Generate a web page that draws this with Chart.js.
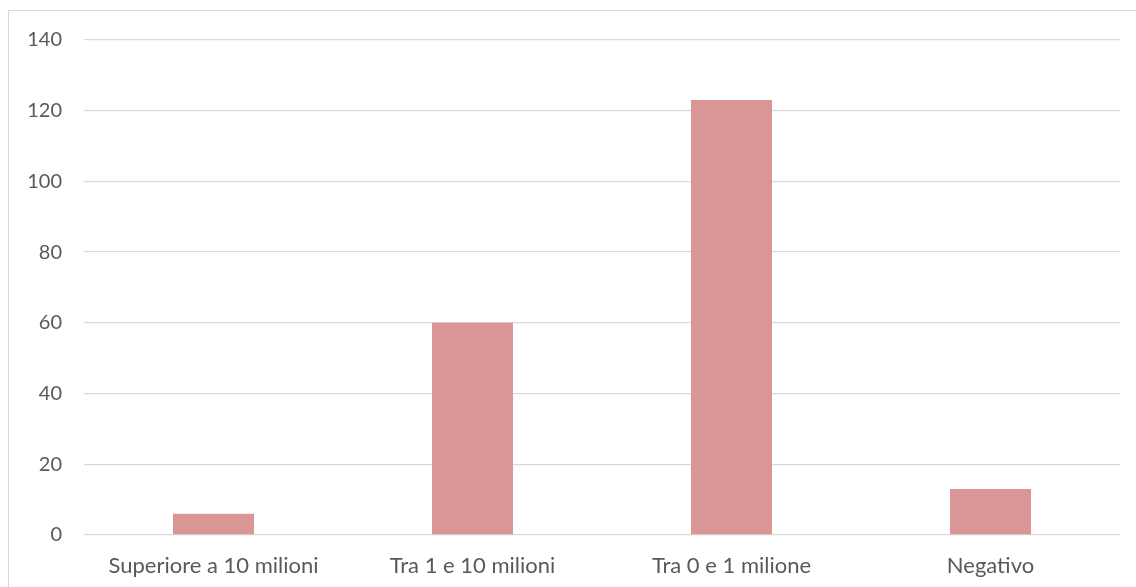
<!DOCTYPE html>
<html>
<head>
<meta charset="utf-8">
<script src="https://cdn.jsdelivr.net/npm/chart.js@4.4.0/dist/chart.umd.min.js"></script>
<style>
  html, body { margin: 0; padding: 0; background: #fff; }
  body { width: 1136px; height: 587px; position: relative; overflow: hidden; }
  .frame { position: absolute; left: 8px; top: 10px; width: 1140px; height: 600px; border: 1px solid #d9d9d9; box-sizing: border-box; }
  #wrap { position: absolute; left: 0; top: 0; width: 1136px; height: 587px; }
</style>
</head>
<body>
<div class="frame"></div>
<div id="wrap"><canvas id="chart"></canvas></div>
<script>
// dati del grafico
const categories = ['Superiore a 10 milioni', 'Tra 1 e 10 milioni', 'Tra 0 e 1 milione', 'Negativo'];
const values = [6, 60, 123, 13];
const yTicks = [0, 20, 40, 60, 80, 100, 120, 140];

const textColor = '#595959';
const gridColor = '#d9d9d9';
const barColor = '#d99694';

new Chart(document.getElementById('chart').getContext('2d'), {
    type: 'bar',
    data: {
        labels: categories,
        datasets: [{
            data: values,
            backgroundColor: barColor,
            borderWidth: 0,
            categoryPercentage: 1,
            barPercentage: 0.313
        }]
    },
    options: {
        responsive: true,
        maintainAspectRatio: false,
        animation: false,
        layout: { padding: { top: 40, right: 16, bottom: 0, left: 0 } },
        plugins: {
            legend: { display: false },
            tooltip: { enabled: false }
        },
        scales: {
            x: {
                grid: { display: false },
                border: { display: false },
                ticks: {
                    color: textColor,
                    font: { family: 'Lato', size: 22 },
                    padding: 10,
                    maxRotation: 0,
                    autoSkip: false
                },
                afterFit: (scale) => { scale.height = 52; }
            },
            y: {
                min: 0,
                max: 140,
                afterBuildTicks: (scale) => { scale.ticks = yTicks.map(v => ({ value: v })); },
                grid: { color: gridColor, lineWidth: 1.3, drawTicks: false },
                border: { display: false },
                ticks: {
                    color: textColor,
                    font: { family: 'Lato', size: 20 },
                    padding: 22
                },
                afterFit: (scale) => { scale.width = 84; }
            }
        }
    }
});
</script>
</body>
</html>
